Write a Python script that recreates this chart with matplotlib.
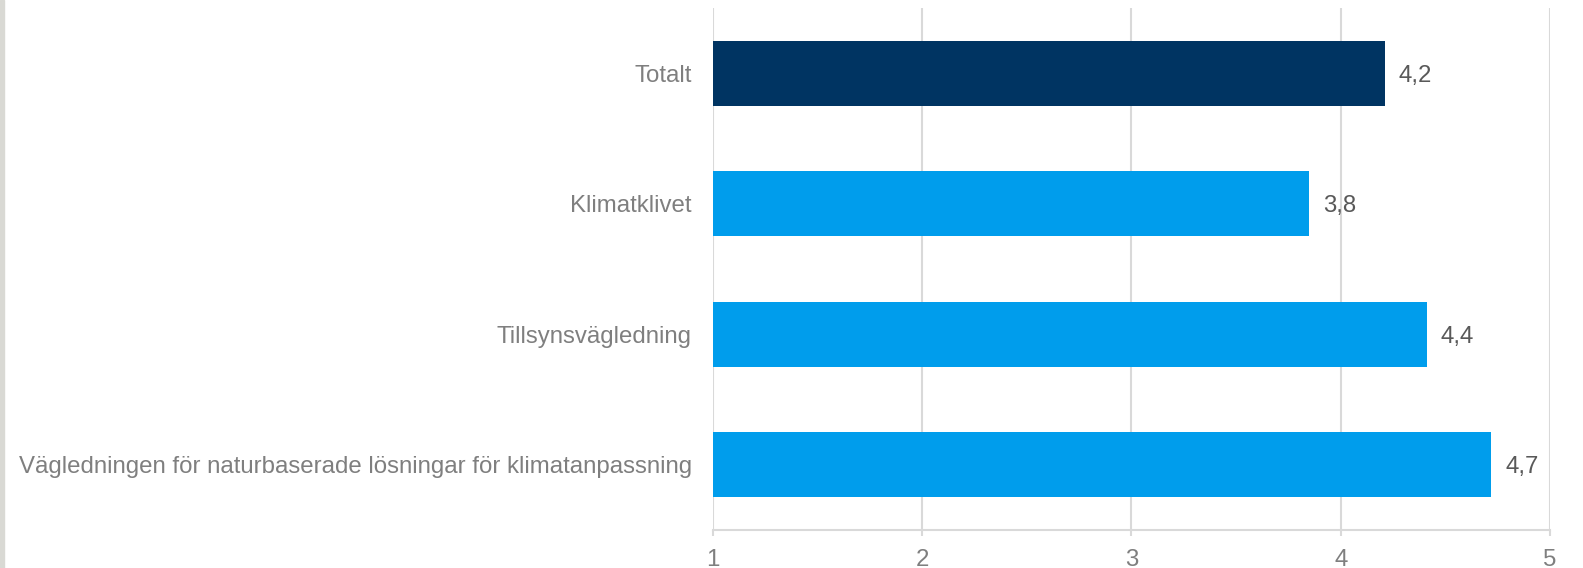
import matplotlib.pyplot as plt
from matplotlib.patches import Rectangle

categories = ['Totalt', 'Klimatklivet', 'Tillsynsvägledning',
              'Vägledningen för naturbaserade lösningar för klimatanpassning']
values = [4.21, 3.85, 4.41, 4.72]
labels = ['4,2', '3,8', '4,4', '4,7']
colors = ['#003462', '#009DEC', '#009DEC', '#009DEC']
xticks = [1, 2, 3, 4, 5]

plt.rcParams['font.family'] = ['Liberation Sans', 'DejaVu Sans']
FS = 17.3

fig = plt.figure(figsize=(15.83, 5.68), dpi=100)
ax = fig.add_axes([0.4502, 0.0669, 0.5290, 0.9190])

# gray strip at far left
fig.patches.append(Rectangle((0, 0), 4 / 1583, 1, transform=fig.transFigure,
                             color='#d9d9d4', zorder=0))

ypos = list(range(len(categories)))
ax.barh(ypos, [v - 1 for v in values], left=1, height=0.5, color=colors, zorder=3)
for y, v, t in zip(ypos, values, labels):
    ax.annotate(t, (v, y), xytext=(10, 0), textcoords='offset points',
                va='center_baseline', ha='left', fontsize=FS, color='#595959')

ax.set_xlim(1, 5)
ax.set_ylim(3.5, -0.5)
ax.set_xticks(xticks)
ax.set_xticklabels([str(x) for x in xticks])
ax.set_yticks(ypos)
ax.set_yticklabels(categories)

ax.grid(axis='x', color='#d9d9d9', linewidth=1.5, zorder=0)
ax.set_axisbelow(True)
for s in ['top', 'right', 'left']:
    ax.spines[s].set_visible(False)
ax.spines['bottom'].set_color('#d9d9d9')
ax.spines['bottom'].set_linewidth(1.5)

ax.tick_params(axis='y', length=0, pad=15, labelsize=FS, labelcolor='#7f7f7f')
ax.tick_params(axis='x', length=4.5, width=1.5, color='#d9d9d9', pad=9.5,
               labelsize=FS, labelcolor='#7f7f7f')

fig.savefig('out.png', dpi=100)
